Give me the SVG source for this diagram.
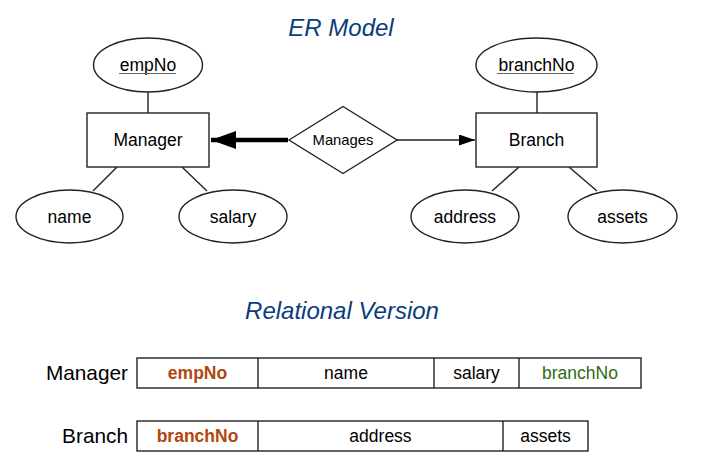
<svg xmlns="http://www.w3.org/2000/svg" width="708" height="474" viewBox="0 0 708 474">
<style>
text{font-family:"Liberation Sans",Arial,sans-serif;fill:#000}
.shape{fill:#fff;stroke:#222;stroke-width:1.4}
.ln{stroke:#222;stroke-width:1.4;fill:none}
.lbl{font-size:17.5px;text-anchor:middle}
.title{font-size:24px;font-style:italic;fill:#0b3c7c;text-anchor:middle}
.rel{font-size:20.8px;text-anchor:end}
.pk{fill:#b0470f;font-weight:bold}
.fk{fill:#2f6b12}
.ul{stroke:#666;stroke-width:1.2}
</style>
<defs>
<marker id="thin" viewBox="0 0 16 11" refX="16" refY="5.5" markerWidth="16" markerHeight="11" markerUnits="userSpaceOnUse" orient="auto">
<path d="M0,0 L16,5.5 L0,11 Z" fill="#000"/>
</marker>
<marker id="thick" viewBox="0 0 25 18" refX="25" refY="9" markerWidth="25" markerHeight="18" markerUnits="userSpaceOnUse" orient="auto">
<path d="M0,0 L25,9 L0,18 Z" fill="#000"/>
</marker>
</defs>
<text class="title" x="341" y="36">ER Model</text>
<text class="title" x="342" y="319">Relational Version</text>
<g id="connectors">
<line class="ln" x1="148" y1="92" x2="148" y2="113"/>
<line class="ln" x1="117" y1="167" x2="93" y2="191"/>
<line class="ln" x1="182" y1="167" x2="207" y2="191"/>
<line class="ln" x1="537" y1="92" x2="537" y2="113"/>
<line class="ln" x1="519" y1="167" x2="492" y2="191"/>
<line class="ln" x1="569" y1="167" x2="597" y2="191"/>
<line x1="288" y1="140" x2="211" y2="140" stroke="#000" stroke-width="4.5" marker-end="url(#thick)"/>
<line x1="397" y1="140" x2="475" y2="140" stroke="#222" stroke-width="1.4" marker-end="url(#thin)"/>
</g>
<g id="manager">
<rect class="shape" x="87" y="113" width="122" height="54"/>
<text class="lbl" x="148" y="146">Manager</text>
</g>
<g id="empNo">
<ellipse class="shape" cx="148" cy="65" rx="54.5" ry="27"/>
<text class="lbl" x="148" y="71">empNo</text>
<line class="ul" x1="119" y1="73.5" x2="176" y2="73.5"/>
</g>
<g id="name">
<ellipse class="shape" cx="69.5" cy="216.5" rx="53.5" ry="26.5"/>
<text class="lbl" x="69.5" y="223">name</text>
</g>
<g id="salary">
<ellipse class="shape" cx="233" cy="216.5" rx="54" ry="26.5"/>
<text class="lbl" x="233" y="223">salary</text>
</g>
<g id="manages">
<polygon class="shape" points="289,140 343,106.5 397,140 343,173.5"/>
<text x="343" y="145" font-size="14.8" text-anchor="middle">Manages</text>
</g>
<g id="branch">
<rect class="shape" x="476" y="113" width="121" height="54"/>
<text class="lbl" x="536.5" y="146">Branch</text>
</g>
<g id="branchNo">
<ellipse class="shape" cx="536.5" cy="65" rx="60.5" ry="27"/>
<text class="lbl" x="536.5" y="71">branchNo</text>
<line class="ul" x1="497" y1="73.5" x2="574" y2="73.5"/>
</g>
<g id="address">
<ellipse class="shape" cx="465" cy="216.5" rx="54" ry="26.5"/>
<text class="lbl" x="465" y="223">address</text>
</g>
<g id="assets">
<ellipse class="shape" cx="622.5" cy="216.5" rx="54.5" ry="26.5"/>
<text class="lbl" x="622.5" y="223">assets</text>
</g>
<g id="manager-relation">
<text class="rel" x="128" y="380">Manager</text>
<rect class="shape" x="137" y="358" width="504" height="30"/>
<line class="ln" x1="258" y1="358" x2="258" y2="388"/>
<line class="ln" x1="434" y1="358" x2="434" y2="388"/>
<line class="ln" x1="519" y1="358" x2="519" y2="388"/>
<text class="lbl pk" x="197.5" y="379">empNo</text>
<text class="lbl" x="346" y="379">name</text>
<text class="lbl" x="476.5" y="379">salary</text>
<text class="lbl fk" x="580" y="379">branchNo</text>
</g>
<g id="branch-relation">
<text class="rel" x="128" y="443">Branch</text>
<rect class="shape" x="137" y="421" width="451" height="30"/>
<line class="ln" x1="258" y1="421" x2="258" y2="451"/>
<line class="ln" x1="503" y1="421" x2="503" y2="451"/>
<text class="lbl pk" x="197.5" y="442">branchNo</text>
<text class="lbl" x="380.5" y="442">address</text>
<text class="lbl" x="545.5" y="442">assets</text>
</g>
</svg>
